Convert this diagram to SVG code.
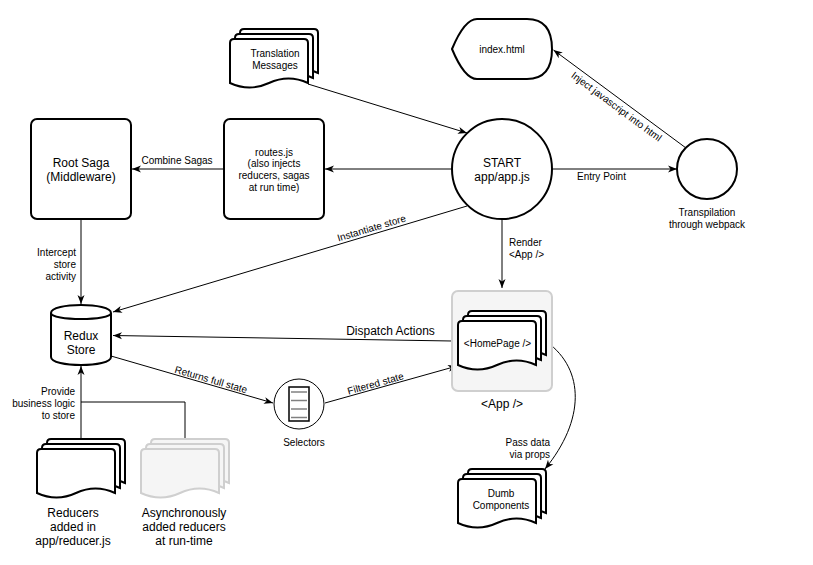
<svg xmlns="http://www.w3.org/2000/svg" width="813" height="565" viewBox="0 0 813 565">
<style>
.node{fill:#fff;stroke:#000;stroke-width:2}
.ghost{fill:#f5f5f5;stroke:#cfcfcf;stroke-width:2}
.thin{fill:#fff;stroke:#000;stroke-width:1}
.edge{fill:none;stroke:#000;stroke-width:1}
.arr{marker-end:url(#ah)}
text{font-family:"Liberation Sans",Arial,sans-serif;fill:#000}
.t10{font-size:10px}
.t12{font-size:12px}
.c{text-anchor:middle}
.r{text-anchor:end}
</style>
<defs>
<marker id="ah" markerUnits="userSpaceOnUse" markerWidth="10" markerHeight="8" refX="9" refY="3.5" orient="auto" overflow="visible">
<path d="M0,0 L9,3.5 L0,7 L2.5,3.5 Z" fill="#000"/>
</marker>
<path id="page" d="M0,4 Q0,0 4,0 L74,0 Q78,0 78,4 L78,44 Q58.5,35 39,44 Q19.5,53 0,44 Z"/>
</defs>
<rect width="813" height="565" fill="#fff"/>

<g id="connectors">
<line class="edge arr" x1="308" y1="84" x2="467" y2="133"/>
<line class="edge arr" x1="452" y1="169" x2="325" y2="169"/>
<line class="edge arr" x1="224" y1="169" x2="132" y2="169"/>
<text class="t10 c" x="177" y="163.5">Combine Sagas</text>
<line class="edge arr" x1="552" y1="169" x2="677" y2="169"/>
<text class="t10 c" x="601.5" y="179.5">Entry Point</text>
<line class="edge arr" x1="686" y1="148" x2="553.5" y2="50"/>
<text class="t10 c" transform="translate(616.5,106.5) rotate(36.5)" y="3.5">Inject javascript into html</text>
<line class="edge arr" x1="467" y1="206" x2="113" y2="312"/>
<text class="t10 c" transform="translate(371.5,228) rotate(-16.7)" y="3.5">Instantiate store</text>
<line class="edge arr" x1="502" y1="219" x2="502" y2="288"/>
<text class="t10" x="509" y="245.5">Render</text>
<text class="t10" x="509" y="257.5">&lt;App /&gt;</text>
<line class="edge arr" x1="81" y1="219" x2="81" y2="304"/>
<text class="t10 r" x="76" y="255.5">Intercept</text>
<text class="t10 r" x="76" y="267.5">store</text>
<text class="t10 r" x="76" y="279.5">activity</text>
<line class="edge arr" x1="452" y1="341" x2="113" y2="335.5"/>
<text class="t12 c" x="390.5" y="335">Dispatch Actions</text>
<line class="edge arr" x1="111" y1="356" x2="273" y2="403"/>
<text class="t10 c" transform="translate(211,379.5) rotate(16.2)" y="3.5">Returns full state</text>
<line class="edge arr" x1="325" y1="403" x2="457" y2="366"/>
<text class="t10 c" transform="translate(375.5,383.5) rotate(-15.7)" y="3.5">Filtered state</text>
<path class="edge arr" d="M547,342 C585,370 585,420 545,469"/>
<text class="t10 r" x="550" y="445.5">Pass data</text>
<text class="t10 r" x="550" y="457.5">via props</text>
<line class="edge arr" x1="81" y1="439" x2="81" y2="366"/>
<text class="t10 r" x="75" y="395">Provide</text>
<text class="t10 r" x="75" y="407">business logic</text>
<text class="t10 r" x="75" y="419">to store</text>
<polyline class="edge" points="185,439 185,402 81,402" stroke="#333"/>
</g>

<g id="translation-messages" class="node" transform="translate(230,29)">
<use href="#page" x="10" y="0"/>
<use href="#page" x="5" y="5"/>
<use href="#page" x="0" y="10"/>
<text class="t10 c" x="45" y="27.5" stroke="none">Translation</text>
<text class="t10 c" x="45" y="39.5" stroke="none">Messages</text>
</g>

<g id="index-html">
<path class="node" d="M452,49 Q464.5,19 477,19 L527,19 Q552,19 552,49 Q552,79 527,79 L477,79 Q464.5,79 452,49 Z"/>
<text class="t10 c" x="502" y="52.5">index.html</text>
</g>

<g id="root-saga">
<rect class="node" x="31" y="119" width="100" height="100" rx="6"/>
<text class="t12 c" x="81" y="167">Root Saga</text>
<text class="t12 c" x="81" y="181">(Middleware)</text>
</g>

<g id="routes">
<rect class="node" x="224" y="119" width="100" height="100" rx="6"/>
<text class="t10 c" x="274" y="155.5">routes.js</text>
<text class="t10 c" x="274" y="167">(also injects</text>
<text class="t10 c" x="274" y="178.5">reducers, sagas</text>
<text class="t10 c" x="274" y="190.5">at run time)</text>
</g>

<g id="start">
<circle class="node" cx="502" cy="169" r="50"/>
<text class="t12 c" x="502" y="167">START</text>
<text class="t12 c" x="502" y="181">app/app.js</text>
</g>

<g id="transpilation">
<circle class="node" cx="707" cy="169" r="30"/>
<text class="t10 c" x="707" y="215.5">Transpilation</text>
<text class="t10 c" x="707" y="227.5">through webpack</text>
</g>

<g id="redux-store">
<path class="node" d="M51,313 C51,302.3 111,302.3 111,313 L111,357 C111,367.7 51,367.7 51,357 Z"/>
<path class="node" fill="none" d="M51,313 C51,321 111,321 111,313"/>
<text class="t12 c" x="81" y="340">Redux</text>
<text class="t12 c" x="81" y="353.5">Store</text>
</g>

<g id="selectors">
<circle class="thin" cx="299" cy="404" r="25"/>
<rect x="289" y="387" width="20" height="34" fill="#fff" stroke="#000" stroke-width="1.5"/>
<g stroke="#808080" stroke-width="1.5">
<line x1="291" y1="392" x2="307" y2="392"/>
<line x1="291" y1="400.5" x2="307" y2="400.5"/>
<line x1="291" y1="409" x2="307" y2="409"/>
<line x1="291" y1="417.5" x2="307" y2="417.5"/>
</g>
<text class="t10 c" x="304" y="445.5">Selectors</text>
</g>

<g id="app">
<rect class="ghost" x="452" y="291" width="100" height="100" rx="6"/>
<text class="t12 c" x="502" y="407.5">&lt;App /&gt;</text>
</g>

<g id="homepage" class="node" transform="translate(458,311)">
<use href="#page" x="10" y="0"/>
<use href="#page" x="5" y="5"/>
<use href="#page" x="0" y="10"/>
<text class="t10 c" x="39.5" y="35.5" stroke="none">&lt;HomePage /&gt;</text>
</g>

<g id="dumb-components" class="node" transform="translate(458,469)">
<use href="#page" x="10" y="0"/>
<use href="#page" x="5" y="5"/>
<use href="#page" x="0" y="10"/>
<text class="t10 c" x="43" y="27.5" stroke="none">Dumb</text>
<text class="t10 c" x="43" y="39.5" stroke="none">Components</text>
</g>

<g id="reducers">
<g class="node" transform="translate(37,439)">
<use href="#page" x="10" y="0"/>
<use href="#page" x="5" y="5"/>
<use href="#page" x="0" y="10"/>
</g>
<text class="t12 c" x="73" y="517">Reducers</text>
<text class="t12 c" x="73" y="531">added in</text>
<text class="t12 c" x="73" y="545">app/reducer.js</text>
</g>

<g id="async-reducers">
<g class="ghost" transform="translate(141,439)">
<use href="#page" x="10" y="0"/>
<use href="#page" x="5" y="5"/>
<use href="#page" x="0" y="10"/>
</g>
<text class="t12 c" x="184" y="517">Asynchronously</text>
<text class="t12 c" x="184" y="531">added reducers</text>
<text class="t12 c" x="184" y="545">at run-time</text>
</g>
</svg>
